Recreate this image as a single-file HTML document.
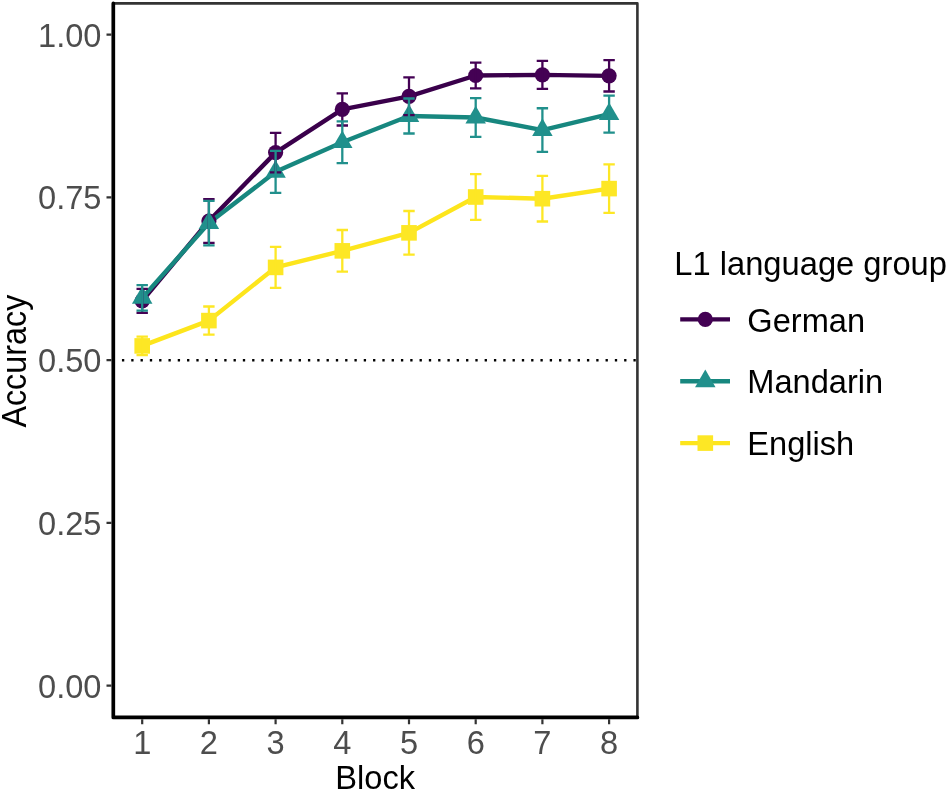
<!DOCTYPE html>
<html lang="en"><head><meta charset="utf-8"><title>Accuracy by Block and L1 language group</title>
<style>
html,body{margin:0;padding:0;background:#fff;}
body{width:948px;height:793px;overflow:hidden;}
svg{display:block;}
text{font-family:"Liberation Sans", sans-serif;}
</style></head><body>
<svg width="948" height="793" viewBox="0 0 948 793">
<rect width="948" height="793" fill="#ffffff"/>
<line x1="113.3" y1="360.25" x2="637.4" y2="360.25" stroke="#000" stroke-width="2.32" stroke-dasharray="2.32 6.98" stroke-dashoffset="-8.64"/>
<polyline points="142.20,300.90 208.90,221.00 275.60,152.60 342.30,109.40 409.00,96.30 475.70,75.50 542.40,74.85 609.10,75.85" fill="none" stroke="#3A004B" stroke-width="4.4" stroke-linejoin="round" stroke-linecap="butt"/>
<polyline points="142.20,297.85 208.90,223.05 275.60,171.85 342.30,142.20 409.00,116.00 475.70,117.50 542.40,130.10 609.10,114.20" fill="none" stroke="#17877F" stroke-width="4.4" stroke-linejoin="round" stroke-linecap="butt"/>
<polyline points="142.20,345.90 208.90,320.60 275.60,267.40 342.30,250.85 409.00,232.85 475.70,197.00 542.40,198.70 609.10,188.60" fill="none" stroke="#FDE51C" stroke-width="4.4" stroke-linejoin="round" stroke-linecap="butt"/>
<circle cx="142.20" cy="300.90" r="7.60" fill="#440154"/>
<circle cx="208.90" cy="221.00" r="7.60" fill="#440154"/>
<circle cx="275.60" cy="152.60" r="7.60" fill="#440154"/>
<circle cx="342.30" cy="109.40" r="7.60" fill="#440154"/>
<circle cx="409.00" cy="96.30" r="7.60" fill="#440154"/>
<circle cx="475.70" cy="75.50" r="7.60" fill="#440154"/>
<circle cx="542.40" cy="74.85" r="7.60" fill="#440154"/>
<circle cx="609.10" cy="75.85" r="7.60" fill="#440154"/>
<polygon points="142.20,286.03 152.44,303.76 131.96,303.76" fill="#21908C"/>
<polygon points="208.90,211.23 219.14,228.96 198.66,228.96" fill="#21908C"/>
<polygon points="275.60,160.03 285.84,177.76 265.36,177.76" fill="#21908C"/>
<polygon points="342.30,130.38 352.54,148.11 332.06,148.11" fill="#21908C"/>
<polygon points="409.00,104.18 419.24,121.91 398.76,121.91" fill="#21908C"/>
<polygon points="475.70,105.68 485.94,123.41 465.46,123.41" fill="#21908C"/>
<polygon points="542.40,118.28 552.64,136.01 532.16,136.01" fill="#21908C"/>
<polygon points="609.10,102.38 619.34,120.11 598.86,120.11" fill="#21908C"/>
<rect x="134.40" y="338.10" width="15.60" height="15.60" fill="#FDE725"/>
<rect x="201.10" y="312.80" width="15.60" height="15.60" fill="#FDE725"/>
<rect x="267.80" y="259.60" width="15.60" height="15.60" fill="#FDE725"/>
<rect x="334.50" y="243.05" width="15.60" height="15.60" fill="#FDE725"/>
<rect x="401.20" y="225.05" width="15.60" height="15.60" fill="#FDE725"/>
<rect x="467.90" y="189.20" width="15.60" height="15.60" fill="#FDE725"/>
<rect x="534.60" y="190.90" width="15.60" height="15.60" fill="#FDE725"/>
<rect x="601.30" y="180.80" width="15.60" height="15.60" fill="#FDE725"/>
<path d="M136.50,288.90H147.90M142.20,288.90V312.90M136.50,312.90H147.90M203.20,199.20H214.60M208.90,199.20V242.80M203.20,242.80H214.60M269.90,132.90H281.30M275.60,132.90V172.30M269.90,172.30H281.30M336.60,93.30H348.00M342.30,93.30V125.50M336.60,125.50H348.00M403.30,77.40H414.70M409.00,77.40V115.20M403.30,115.20H414.70M470.00,62.60H481.40M475.70,62.60V88.40M470.00,88.40H481.40M536.70,60.80H548.10M542.40,60.80V88.90M536.70,88.90H548.10M603.40,60.20H614.80M609.10,60.20V91.50M603.40,91.50H614.80" fill="none" stroke="#440154" stroke-width="2.3"/>
<path d="M136.50,285.10H147.90M142.20,285.10V310.60M136.50,310.60H147.90M203.20,200.80H214.60M208.90,200.80V245.30M203.20,245.30H214.60M269.90,150.90H281.30M275.60,150.90V192.80M269.90,192.80H281.30M336.60,121.30H348.00M342.30,121.30V163.10M336.60,163.10H348.00M403.30,98.50H414.70M409.00,98.50V133.50M403.30,133.50H414.70M470.00,98.10H481.40M475.70,98.10V136.90M470.00,136.90H481.40M536.70,108.25H548.10M542.40,108.25V151.95M536.70,151.95H548.10M603.40,95.70H614.80M609.10,95.70V132.70M603.40,132.70H614.80" fill="none" stroke="#21908C" stroke-width="2.3"/>
<path d="M136.50,336.70H147.90M142.20,336.70V355.10M136.50,355.10H147.90M203.20,306.50H214.60M208.90,306.50V334.70M203.20,334.70H214.60M269.90,246.90H281.30M275.60,246.90V287.90M269.90,287.90H281.30M336.60,230.00H348.00M342.30,230.00V271.70M336.60,271.70H348.00M403.30,211.00H414.70M409.00,211.00V254.70M403.30,254.70H414.70M470.00,174.10H481.40M475.70,174.10V219.90M470.00,219.90H481.40M536.70,175.90H548.10M542.40,175.90V221.50M536.70,221.50H548.10M603.40,164.40H614.80M609.10,164.40V212.80M603.40,212.80H614.80" fill="none" stroke="#FDE725" stroke-width="2.3"/>
<rect x="113.3" y="3.4" width="524.10" height="714.00" fill="none" stroke="#333333" stroke-width="2.6" stroke-linejoin="round"/>
<polyline points="113.3,3.4 113.3,717.4 637.4,717.4" fill="none" stroke="#000" stroke-width="3.7" stroke-linejoin="round" stroke-linecap="round"/>
<path d="M106.5,685.70H111.50M106.5,522.95H111.50M106.5,360.20H111.50M106.5,197.45H111.50M106.5,34.70H111.50M142.20,719.20V724.2M208.90,719.20V724.2M275.60,719.20V724.2M342.30,719.20V724.2M409.00,719.20V724.2M475.70,719.20V724.2M542.40,719.20V724.2M609.10,719.20V724.2" fill="none" stroke="#333333" stroke-width="2.2"/>
<text transform="translate(101.50,697.50) scale(0.982,1)" text-anchor="end" fill="#4D4D4D" font-size="33.2">0.00</text>
<text transform="translate(101.50,534.75) scale(0.982,1)" text-anchor="end" fill="#4D4D4D" font-size="33.2">0.25</text>
<text transform="translate(101.50,372.00) scale(0.982,1)" text-anchor="end" fill="#4D4D4D" font-size="33.2">0.50</text>
<text transform="translate(101.50,209.25) scale(0.982,1)" text-anchor="end" fill="#4D4D4D" font-size="33.2">0.75</text>
<text transform="translate(101.50,46.50) scale(0.982,1)" text-anchor="end" fill="#4D4D4D" font-size="33.2">1.00</text>
<text transform="translate(142.20,753.60) scale(0.982,1)" text-anchor="middle" fill="#4D4D4D" font-size="33.2">1</text>
<text transform="translate(208.90,753.60) scale(0.982,1)" text-anchor="middle" fill="#4D4D4D" font-size="33.2">2</text>
<text transform="translate(275.60,753.60) scale(0.982,1)" text-anchor="middle" fill="#4D4D4D" font-size="33.2">3</text>
<text transform="translate(342.30,753.60) scale(0.982,1)" text-anchor="middle" fill="#4D4D4D" font-size="33.2">4</text>
<text transform="translate(409.00,753.60) scale(0.982,1)" text-anchor="middle" fill="#4D4D4D" font-size="33.2">5</text>
<text transform="translate(475.70,753.60) scale(0.982,1)" text-anchor="middle" fill="#4D4D4D" font-size="33.2">6</text>
<text transform="translate(542.40,753.60) scale(0.982,1)" text-anchor="middle" fill="#4D4D4D" font-size="33.2">7</text>
<text transform="translate(609.10,753.60) scale(0.982,1)" text-anchor="middle" fill="#4D4D4D" font-size="33.2">8</text>
<text transform="translate(375.20,789.40) scale(0.982,1)" text-anchor="middle" fill="#000" font-size="33.2">Block</text>
<text transform="translate(25.60,361.15) rotate(-90) scale(0.945,1)" text-anchor="middle" fill="#000" font-size="34.2">Accuracy</text>
<text transform="translate(674.30,275.00) scale(0.985,1)" text-anchor="start" fill="#000" font-size="33.2">L1 language group</text>
<line x1="680.2" y1="319.4" x2="730.0" y2="319.4" stroke="#3A004B" stroke-width="4.4"/>
<circle cx="705.30" cy="319.40" r="7.60" fill="#440154"/>
<text transform="translate(747.30,331.60) scale(0.982,1)" text-anchor="start" fill="#000" font-size="33.2">German</text>
<line x1="680.2" y1="381.2" x2="730.0" y2="381.2" stroke="#17877F" stroke-width="4.4"/>
<polygon points="705.30,369.48 715.54,387.21 695.06,387.21" fill="#21908C"/>
<text transform="translate(747.30,393.40) scale(0.982,1)" text-anchor="start" fill="#000" font-size="33.2">Mandarin</text>
<line x1="680.2" y1="443.1" x2="730.0" y2="443.1" stroke="#FDE51C" stroke-width="4.4"/>
<rect x="697.50" y="435.30" width="15.60" height="15.60" fill="#FDE725"/>
<text transform="translate(747.30,455.30) scale(0.982,1)" text-anchor="start" fill="#000" font-size="33.2">English</text>
</svg>
</body></html>
